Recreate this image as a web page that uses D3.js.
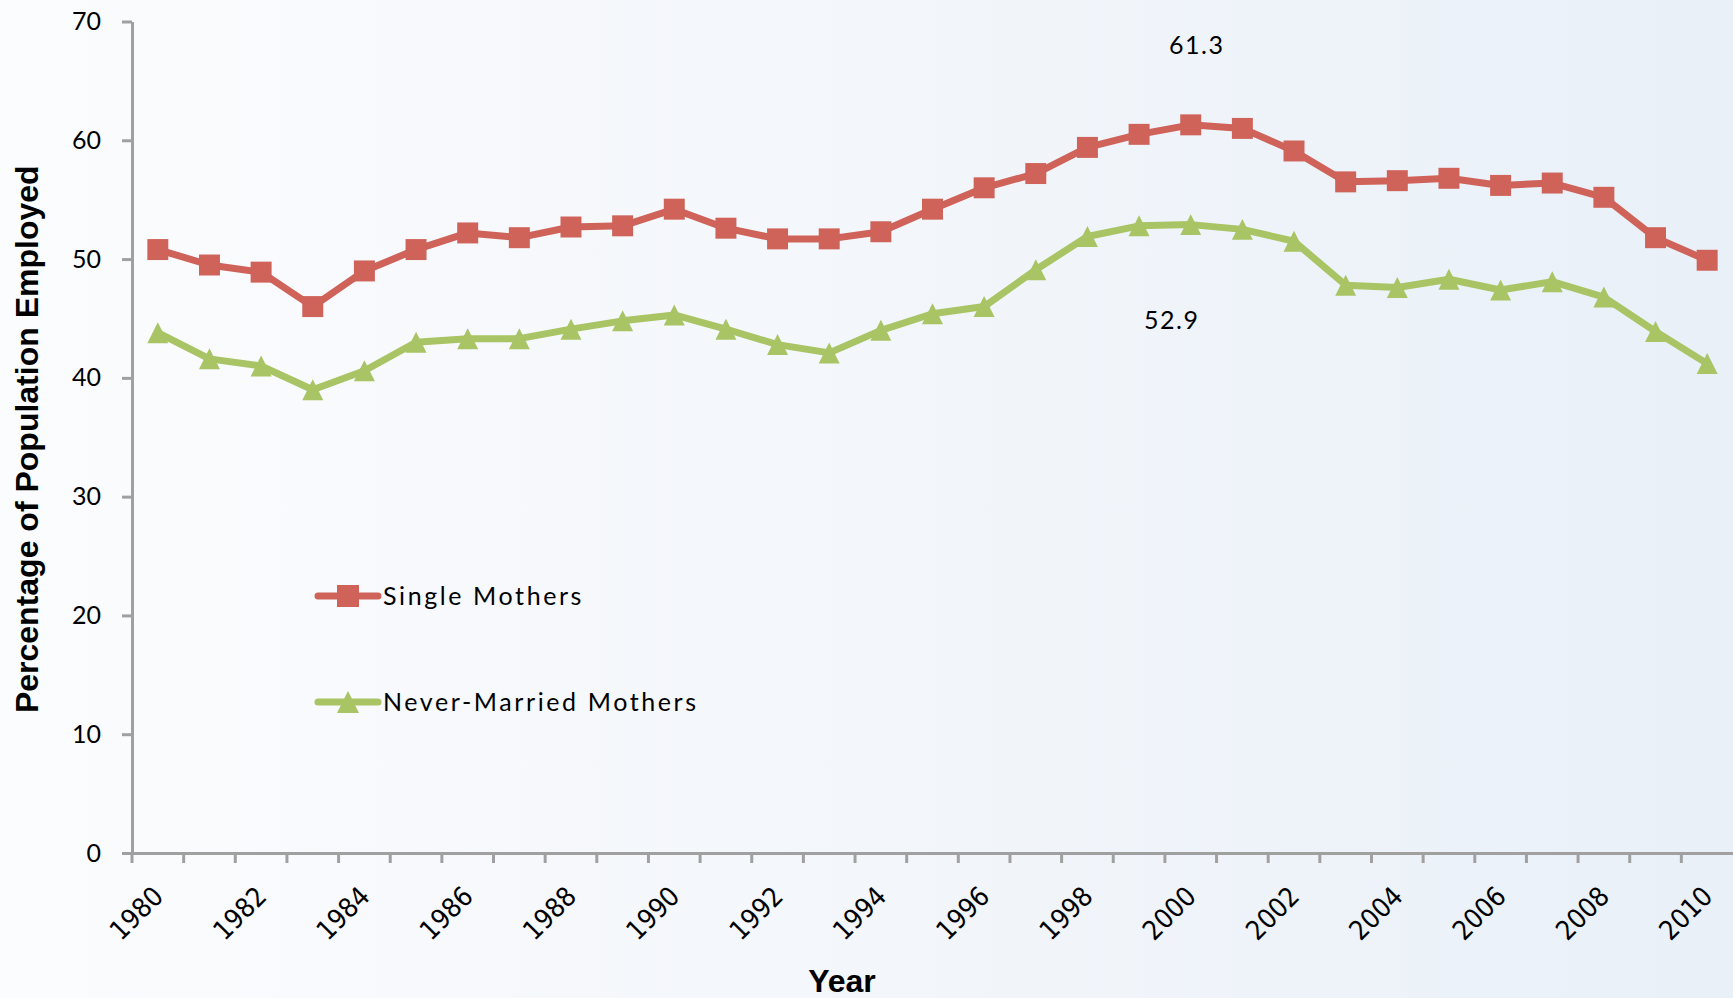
<!DOCTYPE html>
<html>
<head>
<meta charset="utf-8">
<script src="https://cdn.jsdelivr.net/npm/d3@7"></script>
<style>
  html, body { margin: 0; padding: 0; overflow: hidden; }
  svg { display: block; }
</style>
</head>
<body>
<div class="chart"></div>
<script>
// data
const years = [1980, 1981, 1982, 1983, 1984, 1985, 1986, 1987, 1988, 1989,
  1990, 1991, 1992, 1993, 1994, 1995, 1996, 1997, 1998, 1999,
  2000, 2001, 2002, 2003, 2004, 2005, 2006, 2007, 2008, 2009, 2010];

const singleMothers = [50.8, 49.5, 48.9, 46.0, 49.0, 50.8, 52.2, 51.8, 52.7, 52.8,
  54.2, 52.6, 51.7, 51.7, 52.3, 54.2, 56.0, 57.2, 59.4, 60.5,
  61.3, 61.0, 59.1, 56.5, 56.6, 56.8, 56.2, 56.4, 55.2, 51.8, 49.9];

const neverMarriedMothers = [43.8, 41.6, 41.0, 39.0, 40.6, 43.0, 43.3, 43.3, 44.1, 44.8,
  45.3, 44.1, 42.8, 42.1, 44.0, 45.4, 46.0, 49.1, 51.9, 52.8,
  52.9, 52.5, 51.5, 47.8, 47.6, 48.3, 47.4, 48.1, 46.8, 43.9, 41.2];

const tickLabels = [1980, 1982, 1984, 1986, 1988, 1990, 1992, 1994, 1996, 1998,
  2000, 2002, 2004, 2006, 2008, 2010];

const yTicks = [0, 10, 20, 30, 40, 50, 60, 70];

// only the 2000 values get a data label
const labelledYear = 2000;

const series = [
  { name: "Single Mothers", values: singleMothers, color: "#cf6259", marker: "square" },
  { name: "Never-Married Mothers", values: neverMarriedMothers, color: "#a8c464", marker: "triangle" }
];

drawChart();

function drawChart() {
  const width = 1733,
    height = 998;
  const margin = { top: 21.5, right: 0, bottom: 145, left: 132 };

  const svg = d3
    .select(".chart")
    .append("svg")
    .attr("width", width)
    .attr("height", height);

  // pale background, whiter on the left, bluish on the right
  const grad = svg
    .append("defs")
    .append("linearGradient")
    .attr("id", "bg")
    .attr("x1", "0%")
    .attr("x2", "100%");
  grad.append("stop").attr("offset", "0%").attr("stop-color", "#fbfcfe");
  grad.append("stop").attr("offset", "45%").attr("stop-color", "#f4f7fb");
  grad.append("stop").attr("offset", "100%").attr("stop-color", "#e9f0f8");

  svg
    .append("rect")
    .attr("width", width)
    .attr("height", height)
    .attr("fill", "url(#bg)");

  const x = d3
    .scaleBand()
    .domain(years)
    .range([margin.left, width - margin.right]);

  const y = d3
    .scaleLinear()
    .domain([0, 70])
    .range([height - margin.bottom, margin.top]);

  const half = x.bandwidth() / 2;
  const cx = d => x(d) + half;

  // y axis
  const yAxis = svg
    .append("g")
    .attr("transform", `translate(${margin.left},0)`)
    .call(
      d3
        .axisLeft(y)
        .tickValues(yTicks)
        .tickSize(10)
        .tickSizeOuter(0)
        .tickPadding(21)
    );
  yAxis.select(".domain").attr("stroke", "#a0a0a0").attr("stroke-width", 3);
  yAxis.selectAll(".tick line").attr("stroke", "#a0a0a0").attr("stroke-width", 3);
  yAxis
    .selectAll(".tick text")
    .attr("fill", "#000")
    .style("font", "25px Lato, 'Open Sans', sans-serif");

  // x axis, ticks sit on the category boundaries
  const xAxis = svg
    .append("g")
    .attr("transform", `translate(0,${y(0)})`)
    .call(
      d3
        .axisBottom(x)
        .tickSize(10)
        .tickSizeOuter(0)
        .tickFormat("")
    );
  xAxis.select(".domain").attr("stroke", "#a0a0a0").attr("stroke-width", 3);
  xAxis
    .selectAll(".tick line")
    .attr("stroke", "#a0a0a0")
    .attr("stroke-width", 3)
    .attr("transform", `translate(${-half},0)`);

  svg
    .append("g")
    .selectAll("text")
    .data(tickLabels)
    .join("text")
    .attr("text-anchor", "end")
    .attr("transform", d => `translate(${cx(d) + 7},${y(0) + 45}) rotate(-45)`)
    .attr("fill", "#000")
    .style("font", "27px 'DejaVu Sans Condensed', 'DejaVu Sans', sans-serif")
    .text(d => d);

  // axis titles
  svg
    .append("text")
    .attr("transform", `translate(38,${(y(0) + y(70)) / 2 + 2}) rotate(-90)`)
    .attr("text-anchor", "middle")
    .style("font", "bold 32px 'Liberation Sans', Arial, sans-serif")
    .text("Percentage of Population Employed");

  svg
    .append("text")
    .attr("x", 842)
    .attr("y", 992)
    .attr("text-anchor", "middle")
    .style("font", "bold 32px 'Liberation Sans', Arial, sans-serif")
    .text("Year");

  // lines and markers
  const line = d3
    .line()
    .x((d, i) => cx(years[i]))
    .y(d => y(d));

  const triangle = {
    draw(ctx, size) {
      const r = Math.sqrt(size) / 2;
      ctx.moveTo(0, -r);
      ctx.lineTo(r, r);
      ctx.lineTo(-r, r);
      ctx.closePath();
    }
  };
  const symbolFor = s =>
    d3.symbol().type(s.marker === "square" ? d3.symbolSquare : triangle).size(440);

  const seriesG = svg
    .append("g")
    .selectAll("g")
    .data(series)
    .join("g");

  seriesG
    .append("path")
    .attr("fill", "none")
    .attr("stroke", d => d.color)
    .attr("stroke-width", 7)
    .attr("stroke-linejoin", "round")
    .attr("d", d => line(d.values));

  seriesG.each(function(s) {
    d3.select(this)
      .selectAll(".marker")
      .data(s.values)
      .join("path")
      .attr("class", "marker")
      .attr("fill", s.color)
      .attr("transform", (d, i) => `translate(${cx(years[i])},${y(d)})`)
      .attr("d", symbolFor(s)());
  });

  // data labels for 2000
  const li = years.indexOf(labelledYear);
  const labelOffsets = [
    { dx: 6, dy: -71 },
    { dx: -19, dy: 104 }
  ];
  svg
    .append("g")
    .selectAll("text")
    .data(series)
    .join("text")
    .attr("x", (d, i) => cx(labelledYear) + labelOffsets[i].dx)
    .attr("y", (d, i) => y(d.values[li]) + labelOffsets[i].dy)
    .attr("text-anchor", "middle")
    .attr("fill", "#000")
    .style("font", "25px Lato, 'Open Sans', sans-serif")
    .style("letter-spacing", "1.5px")
    .text(d => d3.format(".1f")(d.values[li]));

  // legend inside the plot
  const legend = svg
    .append("g")
    .selectAll("g")
    .data(series)
    .join("g")
    .attr("transform", (d, i) => `translate(318,${596 + i * 106})`);

  legend
    .append("line")
    .attr("x1", 0)
    .attr("x2", 60)
    .attr("stroke", d => d.color)
    .attr("stroke-width", 7)
    .attr("stroke-linecap", "round");

  legend
    .append("path")
    .attr("transform", "translate(30,0)")
    .attr("fill", d => d.color)
    .attr("d", d => symbolFor(d).size(484)());

  legend
    .append("text")
    .attr("x", 65)
    .attr("y", 9)
    .attr("fill", "#000")
    .style("font", "25px Lato, 'Open Sans', sans-serif")
    .style("letter-spacing", "2.6px")
    .text(d => d.name);
}
</script>
</body>
</html>
